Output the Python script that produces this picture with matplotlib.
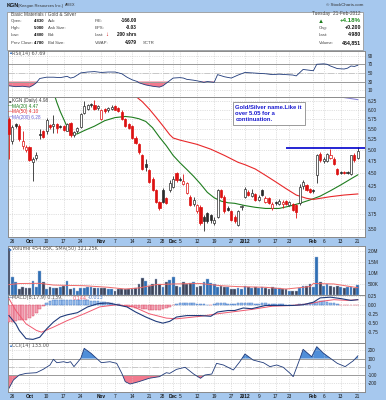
import numpy as np
import matplotlib
matplotlib.use("Agg")
from matplotlib import pyplot as plt
from matplotlib.patches import Rectangle
from matplotlib.ticker import NullLocator, FixedLocator, FixedFormatter

plt.rcParams['font.family'] = ['Liberation Sans', 'DejaVu Sans']

# ---- data (trading day index: -1 = 23-Sep-2011 ... 101 = 21-Feb-2012) ----
days = np.arange(-1, 102)

opens = [5.75, 5.20, 5.63, 5.58, 5.10, 5.00, 5.06, 4.73, 4.82, 5.38,
         5.45, 5.45, 5.60, 5.58, 5.62, 5.58, 5.58, 5.45, 5.65, 5.35,
         5.44, 5.55, 5.92, 6.02, 6.16, 6.14, 6.04, 5.75, 6.02, 6.00,
         6.03, 6.10, 6.05, 5.95, 5.75, 5.62, 5.57, 5.29, 5.13, 4.88,
         4.70, 4.56, 4.39, 4.17, 3.96, 4.17, 4.02, 4.17, 4.24, 4.50,
         4.38, 4.28, 4.12, 4.05, 3.92, 3.79, 3.87, 3.70, 3.76, 3.72,
         3.60, 3.70, 4.17, 4.05, 3.84, 3.79, 3.70, 3.56, 3.86, 4.05,
         4.14, 4.06, 4.10, 3.99, 4.17, 3.96, 4.02, 3.85, 3.96, 3.92,
         3.92, 3.97, 3.90, 3.92, 3.90, 3.93, 4.25, 4.26, 4.20, 4.17,
         4.47, 4.91, 4.76, 4.76, 4.82, 4.80, 4.59, 4.53, 4.52, 4.52,
         4.49, 4.90, 4.83]
highs = [5.80, 5.60, 5.66, 5.62, 5.45, 5.12, 5.10, 4.84, 4.95, 5.50,
         5.48, 5.77, 5.62, 5.87, 5.64, 5.60, 5.60, 5.64, 5.68, 5.45,
         5.55, 5.90, 6.25, 6.15, 6.18, 6.27, 6.12, 6.02, 6.05, 6.08,
         6.12, 6.14, 6.08, 5.98, 5.78, 5.66, 5.60, 5.33, 5.16, 4.92,
         4.80, 4.58, 4.42, 4.20, 3.98, 4.22, 4.05, 4.36, 4.45, 4.53,
         4.42, 4.49, 4.32, 4.08, 4.05, 3.92, 3.90, 3.72, 3.78, 3.74,
         3.70, 4.20, 4.20, 4.08, 3.88, 3.82, 3.72, 3.81, 3.90, 4.24,
         4.18, 4.20, 4.12, 4.08, 4.20, 4.06, 4.04, 3.95, 3.98, 4.00,
         3.99, 3.99, 3.98, 3.94, 3.92, 4.28, 4.36, 4.28, 4.22, 4.20,
         4.92, 4.95, 4.84, 4.93, 5.02, 4.84, 4.62, 4.55, 4.54, 4.55,
         4.90, 4.93, 5.08]
lows = [4.80, 5.15, 5.52, 5.22, 5.02, 4.95, 4.75, 4.35, 4.78, 5.26,
        5.28, 5.38, 5.50, 5.41, 5.40, 5.52, 5.45, 5.44, 5.30, 5.30,
        5.40, 5.52, 5.88, 5.98, 6.08, 5.98, 6.00, 5.72, 5.92, 5.95,
        6.00, 5.98, 5.94, 5.72, 5.55, 5.50, 5.26, 5.15, 4.92, 4.57,
        4.55, 4.30, 4.15, 3.94, 3.82, 3.94, 3.92, 4.14, 4.22, 4.33,
        4.34, 4.26, 4.10, 3.88, 3.88, 3.77, 3.57, 3.46, 3.60, 3.60,
        3.56, 3.68, 4.02, 3.76, 3.80, 3.63, 3.60, 3.54, 3.82, 4.02,
        4.06, 4.05, 3.97, 3.97, 4.06, 3.94, 3.91, 3.82, 3.90, 3.90,
        3.85, 3.90, 3.88, 3.80, 3.68, 3.90, 4.20, 4.15, 4.12, 4.12,
        4.30, 4.74, 4.72, 4.74, 4.80, 4.68, 4.47, 4.48, 4.48, 4.48,
        4.47, 4.74, 4.80]
closes = [5.37, 5.55, 5.57, 5.26, 5.22, 5.08, 4.78, 4.81, 4.90, 5.36,
          5.30, 5.72, 5.56, 5.62, 5.52, 5.56, 5.47, 5.62, 5.35, 5.42,
          5.52, 5.88, 6.10, 6.12, 6.13, 6.01, 6.09, 5.98, 5.96, 6.06,
          6.07, 6.00, 5.97, 5.75, 5.57, 5.53, 5.29, 5.17, 4.95, 4.59,
          4.64, 4.33, 4.17, 3.96, 3.84, 3.96, 3.94, 4.30, 4.39, 4.36,
          4.37, 4.35, 4.30, 3.90, 3.99, 3.90, 3.59, 3.62, 3.62, 3.64,
          3.65, 4.17, 4.05, 3.80, 3.82, 3.65, 3.62, 3.79, 3.88, 4.20,
          4.08, 4.12, 3.99, 4.05, 4.08, 4.02, 3.93, 3.92, 3.94, 3.98,
          3.96, 3.92, 3.95, 3.82, 3.78, 4.24, 4.32, 4.17, 4.14, 4.16,
          4.88, 4.78, 4.80, 4.91, 4.88, 4.70, 4.49, 4.51, 4.50, 4.51,
          4.88, 4.78, 4.98]
volume_m = [2.15, 0.80, 0.58, 0.27, 0.35, 0.30, 0.30, 0.65, 0.35, 1.10,
            0.58, 0.25, 0.35, 0.32, 0.32, 0.35, 0.42, 0.65, 0.25, 0.32,
            0.20, 0.32, 0.32, 0.38, 0.35, 0.30, 0.30, 0.30, 0.30, 0.27,
            0.25, 0.20, 0.25, 0.25, 0.28, 0.28, 0.27, 0.32, 0.50, 0.77,
            0.65, 0.42, 0.50, 0.72, 0.50, 0.35, 0.58, 0.68, 0.80, 0.42,
            0.35, 0.58, 0.50, 0.53, 0.58, 0.38, 0.42, 0.58, 0.72, 0.53,
            0.50, 0.35, 0.42, 0.35, 0.38, 0.27, 0.27, 0.32, 0.27, 0.42,
            0.35, 0.32, 0.35, 0.30, 0.38, 0.32, 0.27, 0.35, 0.32, 0.30,
            0.27, 0.25, 0.20, 0.20, 0.20, 0.30, 0.42, 0.42, 0.50, 0.38,
            1.70, 0.60, 0.40, 0.48, 0.40, 0.35, 0.42, 0.35, 0.30, 0.35,
            0.35, 0.30, 0.455]
macd_hist = [-0.48, -0.47, -0.45, -0.43, -0.42, -0.41, -0.38, -0.30, -0.22, -0.12,
             -0.04, 0.04, 0.09, 0.12, 0.13, 0.13, 0.14, 0.13, 0.12, 0.12,
             0.12, 0.13, 0.13, 0.12, 0.11, 0.10, 0.09, 0.08, 0.07, 0.05,
             0.04, 0.02, 0.01, -0.01, -0.03, -0.05, -0.07, -0.09, -0.10, -0.12,
             -0.13, -0.14, -0.14, -0.15, -0.15, -0.13, -0.10, -0.06, -0.02, 0.02,
             0.04, 0.05, 0.05, 0.05, 0.04, 0.03, 0.02, 0.01, 0.00, -0.01,
             0.02, 0.04, 0.05, 0.04, 0.03, 0.03, 0.03, 0.04, 0.05, 0.06,
             0.05, 0.04, 0.03, 0.03, 0.04, 0.04, 0.03, 0.02, 0.02, 0.02,
             0.01, 0.00, 0.00, -0.01, -0.01, 0.01, 0.02, 0.03, 0.04, 0.05,
             0.08, 0.09, 0.09, 0.08, 0.06, 0.04, 0.01, -0.01, -0.02, -0.02,
             -0.01, -0.01, -0.01]

# indicator lines read at sample days
ma20_x = [11, 12, 13, 14, 15, 16, 17, 18, 19, 21, 24, 27, 30, 33, 35, 37, 39, 41, 43,
          45, 47, 49, 51, 53, 55, 57, 59, 61, 63, 65, 68, 71, 74, 78, 81, 84, 87, 90,
          93, 96, 99, 101]
ma20_y = [6.90, 6.50, 6.20, 5.95, 5.75, 5.55, 5.42, 5.37, 5.38, 5.46, 5.57, 5.71,
          5.79, 5.82, 5.80, 5.76, 5.69, 5.53, 5.30, 5.10, 4.88, 4.72, 4.58, 4.44,
          4.29, 4.13, 4.03, 3.97, 3.94, 3.93, 3.89, 3.86, 3.84, 3.84, 3.88, 3.93,
          3.99, 4.06, 4.16, 4.27, 4.39, 4.47]
ma50_x = [34, 36, 38, 40, 42, 44, 46, 47, 49, 51, 54, 58, 62, 66, 68, 71, 74, 77, 80,
          83, 86, 88, 90, 93, 97, 101]
ma50_y = [6.50, 6.38, 6.22, 6.02, 5.80, 5.58, 5.36, 5.28, 5.23, 5.19, 5.13, 5.02,
          4.88, 4.73, 4.68, 4.59, 4.46, 4.33, 4.20, 4.08, 4.02, 4.00, 4.02, 4.05,
          4.08, 4.10]
ma200_x = [92, 95, 97, 99, 101]
ma200_y = [6.45, 6.38, 6.34, 6.31, 6.28]

vol_sma_x = [-1, 2, 8, 12, 21, 28, 33, 37, 42, 47, 55, 61, 66, 74, 80, 87, 88, 94, 101]
vol_sma_y = [0.47, 0.52, 0.53, 0.45, 0.42, 0.35, 0.27, 0.32, 0.47, 0.50, 0.52, 0.42,
             0.38, 0.35, 0.27, 0.38, 0.52, 0.50, 0.33]

rsi_x = [-1, 1, 3, 5, 6, 7, 8, 10, 12, 14, 16, 17, 18, 20, 22, 24, 26, 28, 30, 32,
         33.5, 35, 36.5, 37, 39, 41, 43, 44, 45, 47, 49, 50, 51, 53, 55, 56, 57, 58,
         59, 60, 62, 64, 66, 68, 70, 72, 74, 76, 78, 80, 82, 83, 85, 87, 88, 89, 91,
         92, 93, 95, 97, 98, 99, 100, 101]
rsi_y = [20, 18, 19, 17, 21, 27, 37, 40, 40, 39, 42, 38, 40, 50, 52, 53, 51, 52, 52,
         48, 40, 34, 30, 27, 22, 19, 17, 20, 26, 38, 39, 38, 35, 33, 30, 28, 30, 29,
         28, 46, 41, 38, 45, 51, 50, 49, 48, 46, 47, 46, 45, 43, 58, 56, 55, 70, 71,
         70, 66, 60, 59, 61, 66, 65, 67.69]

macd_x = [-1, 1, 2, 4, 6, 8, 10, 12, 14, 16, 19, 22, 25, 28, 30.5, 33.5, 36, 39, 42,
          44, 46, 48, 51, 55, 58, 60, 63, 65, 67.5, 70, 74, 79, 82, 85, 88, 90, 93,
          96, 99, 101]
macd_y = [-0.30, -0.53, -0.71, -0.94, -0.96, -0.90, -0.67, -0.48, -0.34, -0.28,
          -0.22, -0.06, 0.03, 0.05, 0.00, -0.06, -0.20, -0.34, -0.46, -0.51, -0.46,
          -0.34, -0.30, -0.30, -0.32, -0.20, -0.16, -0.16, -0.09, -0.11, -0.02,
          -0.02, -0.02, 0.00, 0.07, 0.19, 0.21, 0.17, 0.12, 0.14]
signal_x = [-1, 1, 4, 7, 8.5, 12, 16, 21, 25.5, 30.5, 35.5, 40, 45, 48, 55, 60, 65,
            70, 76, 82, 87, 90, 94, 98, 101]
signal_y = [0.17, -0.16, -0.53, -0.71, -0.76, -0.62, -0.44, -0.25, -0.06, 0.00,
            -0.06, -0.25, -0.37, -0.39, -0.32, -0.25, -0.19, -0.13, -0.04, -0.02,
            0.03, 0.09, 0.14, 0.12, 0.14]

cci_x = [-1, 0.3, 2, 4, 7, 9, 11, 12, 13, 15, 16, 17, 18, 20, 21, 23, 24.6, 26, 28.5,
         30.5, 32, 33, 34.4, 37, 40, 43, 45, 46, 48, 50.5, 53, 55, 56.3, 58.3, 59.7,
         61.7, 64.6, 66.5, 68, 70.4, 73.4, 75.3, 77.3, 79.2, 81.2, 82.1, 84, 85,
         87.5, 89, 91, 93, 95, 97.3, 99.7, 101]
cci_y = [-262, -161, -100, -80, -72, -31, 22, 91, 50, 62, 50, 62, 2, 103, 225, 164,
         103, 50, 62, 42, -80, -181, -210, -181, -140, -120, -72, -80, -31, -6, -88,
         -140, -100, -88, 42, 22, -39, 62, 156, 82, 50, 2, 22, -6, -80, -120, 91, 213,
         123, 245, 164, 103, 42, 2, 74, 133]

tick_days = [0, 5, 10, 15, 20, 26, 30, 35, 40, 44, 47, 49, 54, 59, 64, 68, 72, 77, 81,
             88, 91, 96, 101]
tick_text = ['26', 'Oct', '10', '17', '24', 'Nov', '7', '14', '21', '28', 'Dec', '5',
             '12', '19', '27', '2012', '9', '17', '23', 'Feb', '6', '13', '21']
month_text = ['Oct', 'Nov', 'Dec', '2012', 'Feb']

resist_level = 5.05
resist_from = 80

# ---- layout ----
W, H = 386, 400
BG = '#a6c8ee'
fs = 3.4
PANEL_FONT = ['DejaVu Sans']

fig = plt.figure(figsize=(W / 100, H / 100), dpi=100)
fig.patch.set_facecolor(BG)


def px_axes(l, t, r, b):
    return fig.add_axes([l / W, 1 - b / H, (r - l) / W, (b - t) / H])


def ftext(x, y, s, **kw):
    kw.setdefault('fontsize', fs)
    kw.setdefault('color', '#444444')
    fig.text(x / W, 1 - y / H, s, va='center', **kw)


def style(ax, yticks, ylabels, ylim):
    ax.set_facecolor('white')
    ax.set_xlim(-1.43, 103.1)
    ax.set_ylim(*ylim)
    ax.yaxis.tick_right()
    ax.yaxis.set_major_locator(FixedLocator(yticks))
    ax.yaxis.set_major_formatter(FixedFormatter(ylabels))
    ax.yaxis.set_minor_locator(NullLocator())
    ax.set_xticks(tick_days)
    ax.tick_params(axis='y', length=0, labelsize=fs, pad=2, labelcolor='#222222')
    ax.tick_params(axis='x', length=0, labelbottom=False)
    ax.grid(True, color='#c4c4c4', ls=':', lw=0.5)
    for sp in ax.spines.values():
        sp.set_color('#8a8a8a')
        sp.set_linewidth(0.7)


def date_labels(ax):
    ax.tick_params(axis='x', labelbottom=True, labelsize=fs, pad=1.5, labelcolor='#111111')
    ax.set_xticklabels(tick_text)
    for lab in ax.get_xticklabels():
        if lab.get_text() in month_text:
            lab.set_fontweight('bold')


# ---- header ----
ftext(6.5, 5.5, 'KGN', fontsize=4.0, fontweight='bold', color='#111111')
ftext(17.5, 5.5, '(Keegan Resources Inc.)', fontsize=3.0, color='#333333')
ftext(64.5, 5.5, 'AMEX', fontsize=2.7, color='#333333')
ftext(363, 5.5, '© StockCharts.com', fontsize=3.2, color='#333333', ha='right')

fig.add_artist(Rectangle((6.7 / W, 1 - 50 / H), 356.3 / W, 38.3 / H,
                         transform=fig.transFigure, fc='white', ec='#999999', lw=0.6))
rows = [14, 20.7, 27.7, 35, 42.7]
ftext(10.7, rows[0], 'Basic Materials / Gold & Silver')
ftext(361, rows[0], 'Tuesday  21-Feb-2012', ha='right')
for y, lab, val in zip(rows[1:], ['Open:', 'High:', 'Low:', 'Prev Close:'],
                       ['4.830', '5.080', '4.800', '4.780']):
    ftext(10.7, y, lab, fontsize=3.1)
    ftext(44, y, val, ha='right', fontweight='bold', color='#111111', fontsize=3.1)
for y, lab in zip(rows[1:], ['Ask:', 'Ask Size:', 'Bid:', 'Bid Size:']):
    ftext(47.5, y, lab, fontsize=3.1)
for y, lab in zip(rows[1:], ['P/E:', 'EPS:', 'Last:', 'VWAP:']):
    ftext(95, y, lab, fontsize=3.1)
ftext(136.7, rows[1], '-166.00', ha='right', fontweight='bold', color='#111111')
ftext(136.7, rows[2], '-0.03', ha='right', fontweight='bold', color='#111111')
ftext(105, rows[3], '↓', color='#cc0000', fontweight='bold', fontsize=4.2)
ftext(136.7, rows[3], '200 shrs', ha='right', fontweight='bold', color='#111111')
ftext(136.7, rows[4], '4.979', ha='right', fontweight='bold', color='#111111')
ftext(143, rows[4], 'SCTR', fontsize=3.1)
ftext(318, rows[1] + 0.5, '▲', color='#1b7a1b', fontsize=4.4)
ftext(361, rows[1], '+4.18%', ha='right', fontweight='bold', color='#1b8a1b', fontsize=4.4)
for y, lab, val in zip(rows[2:], ['Chg:', 'Last:', 'Volume:'], ['+0.200', '4.980', '454,851']):
    ftext(319, y, lab, fontsize=3.1)
    ftext(361, y, val, ha='right', fontweight='bold', color='#111111', fontsize=3.8)

# ---- RSI ----
ax_rsi = px_axes(7.5, 50.5, 365, 97)
style(ax_rsi, [10, 30, 50, 70, 90], ['10', '30', '50', '70', '90'], (-6, 102))
rx, ry = np.array(rsi_x), np.array(rsi_y)
ax_rsi.fill_between(rx, ry, 70, where=ry >= 70, interpolate=True, color='#4f8ed8', lw=0)
ax_rsi.fill_between(rx, ry, 30, where=ry <= 30, interpolate=True, color='#f27a8e', lw=0)
for lvl in (30, 70):
    ax_rsi.axhline(lvl, color='#9a9a9a', lw=0.7)
ax_rsi.axhline(50, color='#c8c8c8', lw=0.7, ls='-.')
ax_rsi.plot(rx, ry, color='#1f3a7a', lw=0.6)
ftext(8.5, 53.5, '▲', color='#3a78c8', fontsize=3)
ftext(12, 53.5, 'RSI(14) 67.69', color='#555555', fontsize=3.5, family=PANEL_FONT)

# ---- price ----
ax_px = px_axes(7.5, 97, 365, 237)
ax_px.set_yscale('log')
pticks = [3.50, 3.75, 4.00, 4.25, 4.50, 4.75, 5.00, 5.25, 5.50, 5.75, 6.00, 6.25]
style(ax_px, pticks, ['%.2f' % p for p in pticks], (3.375, 6.355))
date_labels(ax_px)

o, h, l, c = map(np.array, (opens, highs, lows, closes))
prev = np.r_[o[0], c[:-1]]
cols = np.where(c >= prev, '#2a2a2a', '#dd1111')
ax_px.vlines(days, l, h, colors=cols, lw=0.6, zorder=3)
for d, oo, cc, col in zip(days, o, c, cols):
    face = col if cc < oo else 'white'
    ax_px.bar(d, max(abs(cc - oo), 0.012), bottom=min(oo, cc), width=0.62,
              facecolor=face, edgecolor=col, linewidth=0.5, zorder=4)

ax_px.plot(ma20_x, ma20_y, color='#1f7d1f', lw=0.8, zorder=2)
ax_px.plot(ma50_x, ma50_y, color='#e8282a', lw=0.8, zorder=2)
ax_px.plot(ma200_x, ma200_y, color='#8a84d6', lw=0.8, zorder=2)
ax_px.hlines(resist_level, resist_from, 103.1, color='#0000cc', lw=1.2, zorder=5)

ftext(8.5, 100.8, '■', color='#555555', fontsize=3)
ftext(12, 100.8, 'KGN (Daily) 4.98', color='#444444')
for y, txt, col in [(106.3, 'MA(20) 4.47', '#1f7d1f'), (111.8, 'MA(50) 4.10', '#e8282a'),
                    (117.3, 'MA(200) 6.28', '#6a64d6')]:
    ftext(8.3, y, '—', color=col, fontsize=3.4)
    ftext(12, y, txt, color=col)

ftext(235.5, 113.5, 'Gold/Silver name.Like it\nover 5.05 for a\ncontinuation.',
      color='#1a1ad0', fontweight='bold', fontsize=4.2, linespacing=1.3,
      bbox=dict(boxstyle='square,pad=0.5', fc='white', ec='#8a8a8a', lw=0.6))

# ---- volume ----
ax_vol = px_axes(7.5, 246, 365, 295)
style(ax_vol, [0.5, 1.0, 1.5, 2.0], ['500K', '1.0M', '1.5M', '2.0M'], (0, 2.22))
vcols = np.where(c >= prev, '#2f6fb4', '#3d4459')
ax_vol.bar(days, volume_m, width=0.8, color=vcols, edgecolor='#9fb6d6', linewidth=0.3,
           zorder=3)
ax_vol.plot(vol_sma_x, vol_sma_y, color='#f06a6a', lw=0.7, zorder=4)
ftext(8.5, 248.8, '■', color='#3a78c8', fontsize=3)
ftext(12, 248.8, 'Volume 454.85K, SMA(50) 321.25K', color='#555555', fontsize=3.5,
      family=PANEL_FONT)

# ---- MACD ----
ax_macd = px_axes(7.5, 295, 365, 343)
style(ax_macd, [-0.75, -0.5, -0.25, 0.0, 0.25], ['-0.75', '-0.50', '-0.25', '0.00', '0.25'],
      (-1.06, 0.27))
hist = np.array(macd_hist)
hcols = np.where(hist >= 0, '#9cc0ec', '#f2a2b4')
hedge = np.where(hist >= 0, '#3a6fc0', '#d8405a')
ax_macd.bar(days, hist, width=0.8, color=hcols, edgecolor=hedge, linewidth=0.3, zorder=3)
ax_macd.plot(signal_x, signal_y, color='#f05a70', lw=0.7, zorder=4)
ax_macd.plot(macd_x, macd_y, color='#1f3a7a', lw=0.8, zorder=5)
ftext(8.3, 297.8, '—', color='#1f3a7a', fontsize=3.4)
ftext(12, 297.8, 'MACD(8,17,9) 0.139,', color='#555555', fontsize=3.5, family=PANEL_FONT)
ftext(73, 297.8, '0.144,', color='#f05a70', fontsize=3.5, family=PANEL_FONT)
ftext(87.5, 297.8, '-0.013', color='#4a80d0', fontsize=3.5, family=PANEL_FONT)

# ---- CCI ----
ax_cci = px_axes(7.5, 343, 365, 391.5)
style(ax_cci, [-200, -100, 0, 100, 200], ['-200', '-100', '0', '100', '200'], (-301, 290))
date_labels(ax_cci)
cx, cy = np.array(cci_x), np.array(cci_y)
ax_cci.fill_between(cx, cy, 100, where=cy >= 100, interpolate=True, color='#4f8ed8', lw=0)
ax_cci.fill_between(cx, cy, -100, where=cy <= -100, interpolate=True, color='#f27a8e', lw=0)
for lvl in (-100, 100):
    ax_cci.axhline(lvl, color='#9a9a9a', lw=0.7)
ax_cci.axhline(0, color='#c8c8c8', lw=0.7, ls='-.')
ax_cci.plot(cx, cy, color='#1f3a7a', lw=0.6)
ftext(8.5, 345.8, '▲', color='#3a78c8', fontsize=3)
ftext(12, 345.8, 'CCI(14) 133.00', color='#555555', fontsize=3.5, family=PANEL_FONT)

fig.savefig('out.png', dpi=100, facecolor=fig.get_facecolor())
